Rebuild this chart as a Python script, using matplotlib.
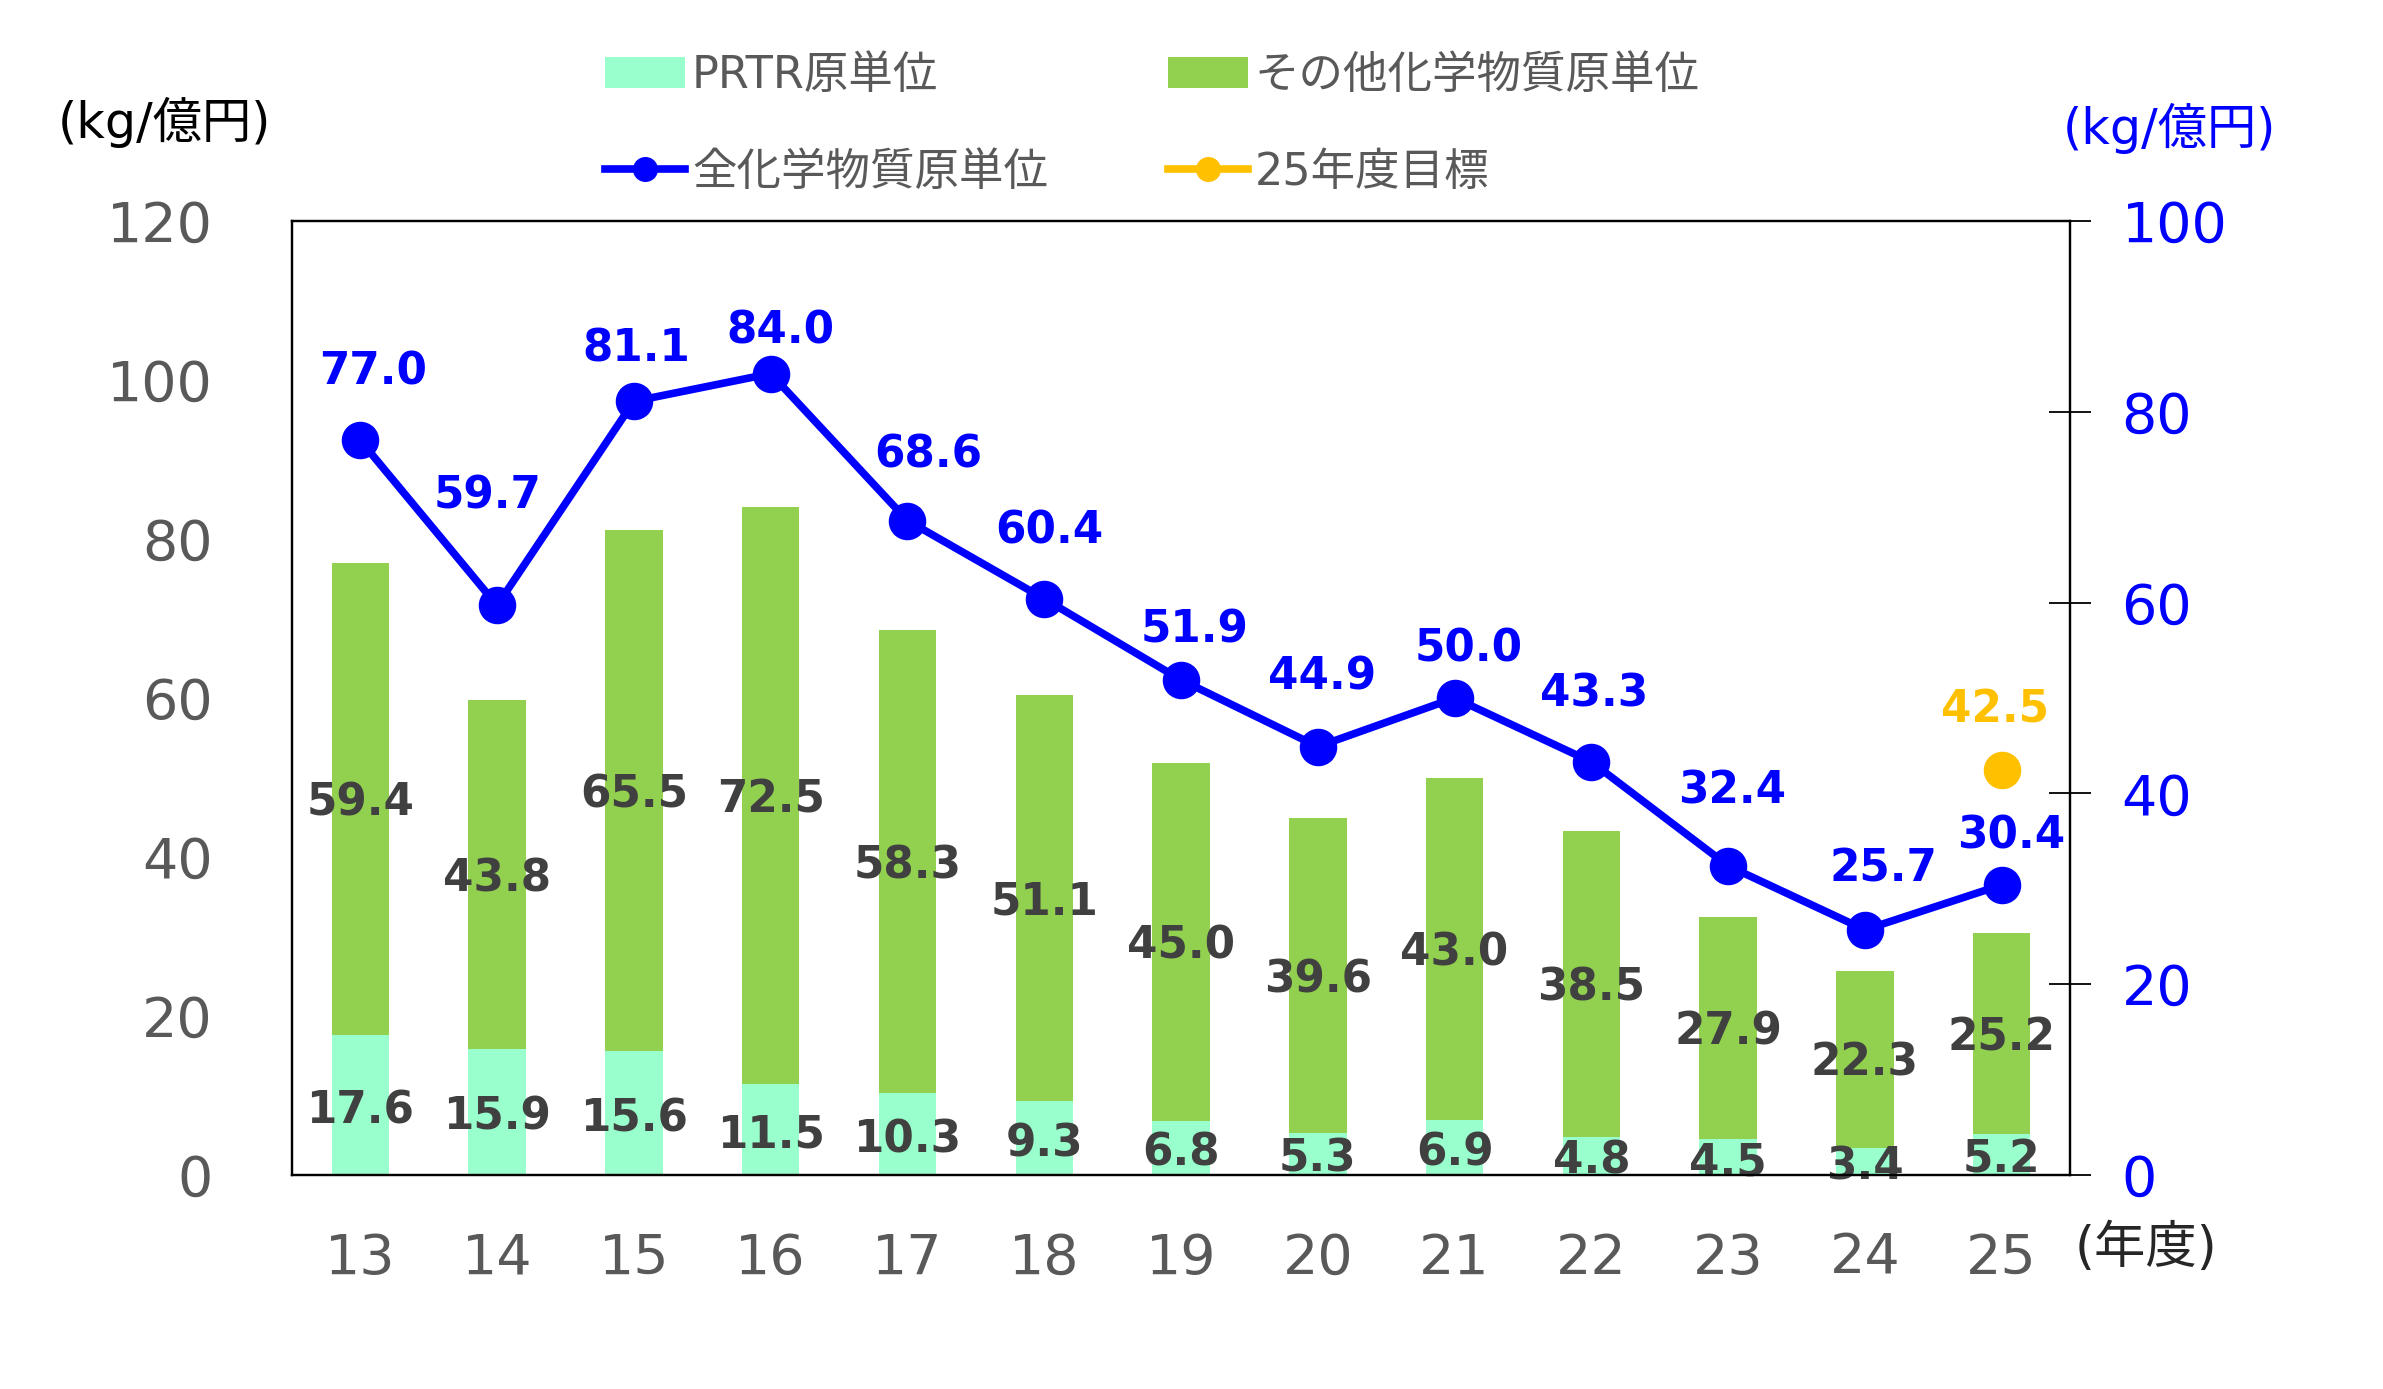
import matplotlib
matplotlib.use("Agg")
import matplotlib.pyplot as plt
from matplotlib.lines import Line2D
from matplotlib.patches import Patch

plt.rcParams['font.family'] = ['DejaVu Sans', 'Noto Sans CJK JP']

years = ['13', '14', '15', '16', '17', '18', '19', '20', '21', '22', '23', '24', '25']
prtr = [17.6, 15.9, 15.6, 11.5, 10.3, 9.3, 6.8, 5.3, 6.9, 4.8, 4.5, 3.4, 5.2]
other = [59.4, 43.8, 65.5, 72.5, 58.3, 51.1, 45.0, 39.6, 43.0, 38.5, 27.9, 22.3, 25.2]
total = [77.0, 59.7, 81.1, 84.0, 68.6, 60.4, 51.9, 44.9, 50.0, 43.3, 32.4, 25.7, 30.4]
target_year_idx = 12
target_value = 42.5

left_ticks = [0, 20, 40, 60, 80, 100, 120]
right_ticks = [0, 20, 40, 60, 80, 100]

# label offsets (points) for line labels, layout only
line_lbl_dx = [9, -7, 2, 7, 15, 4, 10, 3, 10, 2, 3, 13, 7]
line_lbl_dy = [49, 79, 38, 31, 47, 49, 36, 50, 35, 49, 54, 44, 35]

C_PRTR = '#99FFCC'
C_OTHER = '#92D050'
C_LINE = '#0000FF'
C_TGT = '#FFC000'
C_TXT = '#404040'
C_TICK = '#595959'

fig = plt.figure(figsize=(23.83, 13.89), dpi=100)
ax = fig.add_axes([0.1225, 0.1541, 0.7462, 0.6868])
x = list(range(len(years)))

ax.bar(x, prtr, width=0.42, color=C_PRTR, zorder=2)
ax.bar(x, other, width=0.42, bottom=prtr, color=C_OTHER, zorder=2)

for i in x:
    ax.annotate(f'{prtr[i]:.1f}', (i, prtr[i] / 2), xytext=(0, -4), textcoords='offset points',
                ha='center', va='center', fontsize=31.5, fontweight='bold', color=C_TXT, zorder=5)
    ax.annotate(f'{other[i]:.1f}', (i, prtr[i] + other[i] / 2), xytext=(0, -3), textcoords='offset points',
                ha='center', va='center', fontsize=31.5, fontweight='bold', color=C_TXT, zorder=5)

ax.set_xlim(-0.5, 12.5)
ax.set_ylim(0, 120)
ax.set_yticks(left_ticks)
ax.set_xticks(x)
ax.set_xticklabels(years)
ax.tick_params(axis='y', length=0, pad=57, labelsize=40, labelcolor=C_TICK)
ax.tick_params(axis='x', length=0, pad=41, labelsize=40, labelcolor=C_TICK)
for s in ax.spines.values():
    s.set_linewidth(1.6)
    s.set_color('black')

ax2 = ax.twinx()
ax2.set_ylim(0, 100)
ax2.set_yticks(right_ticks)
ax2.tick_params(axis='y', direction='inout', length=30, width=1.3, pad=22, labelsize=40,
                labelcolor=C_LINE, color='black')
for s in ax2.spines.values():
    s.set_linewidth(1.6)
    s.set_color('black')

ax2.plot(x, total, color=C_LINE, lw=5.5, marker='o', markersize=26, zorder=4)
for i in x:
    ax2.annotate(f'{total[i]:.1f}', (i, total[i]), xytext=(line_lbl_dx[i], line_lbl_dy[i]),
                 textcoords='offset points', ha='center', va='center', fontsize=31.5,
                 fontweight='bold', color=C_LINE, zorder=6)

ax2.plot([target_year_idx], [target_value], linestyle='none', marker='o', markersize=26,
         color=C_TGT, zorder=4)
ax2.annotate(f'{target_value:.1f}', (target_year_idx, target_value), xytext=(-5, 43),
             textcoords='offset points', ha='center', va='center', fontsize=31.5,
             fontweight='bold', color=C_TGT)

fig.text(0.0688, 0.9122, '(kg/億円)', ha='center', va='center', fontsize=35.5, color='black')
fig.text(0.9102, 0.9078, '(kg/億円)', ha='center', va='center', fontsize=35.5, color=C_LINE)
fig.text(0.9005, 0.1008, '(年度)', ha='center', va='center', fontsize=37, color='#262626')

handles = [
    Patch(facecolor=C_PRTR, edgecolor='none'),
    Line2D([0], [0], color=C_LINE, lw=5.5, marker='o', markersize=17),
    Patch(facecolor=C_OTHER, edgecolor='none'),
    Line2D([0], [0], color=C_TGT, lw=5.5, marker='o', markersize=17),
]
labels = ['PRTR原単位', '全化学物質原単位', 'その他化学物質原単位', '25年度目標']
leg = fig.legend(handles, labels, loc='upper left', bbox_to_anchor=(0.254, 0.961), ncol=2,
                 frameon=False, fontsize=32, labelcolor=C_TICK, handlelength=1.8,
                 handletextpad=0.15, columnspacing=2.7, labelspacing=1.2, borderpad=0,
                 borderaxespad=0)

fig.savefig('out.png', dpi=100)
